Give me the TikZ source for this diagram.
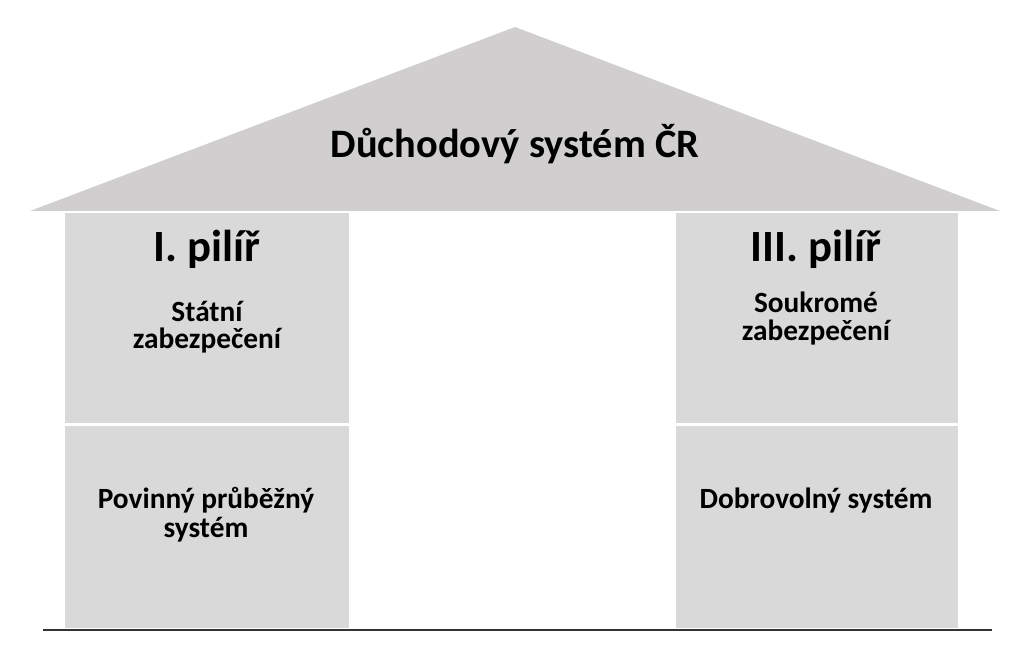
\documentclass[tikz,border=0pt]{standalone}
\usepackage{fontspec}
\setmainfont{Carlito}
\usepackage{tikz}
\usetikzlibrary{positioning}
\definecolor{roofgray}{HTML}{D0CECE}
\definecolor{pillargray}{HTML}{D9D9D9}
\tikzset{
  block/.style={fill=pillargray, draw=none},
  title/.style={font=\bfseries\fontsize{30.3}{36}\selectfont, anchor=base},
  pillar/.style={font=\bfseries\fontsize{33.5}{40}\selectfont, anchor=base},
  label/.style={font=\bfseries\fontsize{22}{20.5}\selectfont, align=center, anchor=base},
}
\begin{document}
\begin{tikzpicture}[x=0.75pt,y=-0.75pt]
\useasboundingbox (0,0) rectangle (1028,652);
% roof
\coordinate (roofL) at (30,211);
\coordinate (roofT) at (515,27);
\coordinate (roofR) at (1000,211);
\fill[roofgray] (roofL) -- (roofT) -- (roofR) -- cycle;
\node[title] (system) at (515,158) {Důchodový systém ČR};
% pillars
\fill[block] (65,213) rectangle (349,423);
\fill[block] (65,426) rectangle (349,628);
\fill[block] (676,213) rectangle (958,423);
\fill[block] (676,426) rectangle (958,628);
\node[pillar] (first) at (207,262) {I. pilíř};
\node[pillar] (third) at (816,262) {III. pilíř};
\node[label] (state) at (207,349) {Státní\\zabezpečení};
\node[label] (private) at (816,340) {Soukromé\\zabezpečení};
\node[label, font=\bfseries\fontsize{22}{21.5}\selectfont] (payg) at (206,537) {Povinný průběžný\\systém};
\node[label] (voluntary) at (816,508) {Dobrovolný systém};
% ground
\coordinate (baseL) at (43,630);
\coordinate (baseR) at (992,630);
\draw[line width=1.5pt, black!80] (baseL) -- (baseR);
\end{tikzpicture}
\end{document}
